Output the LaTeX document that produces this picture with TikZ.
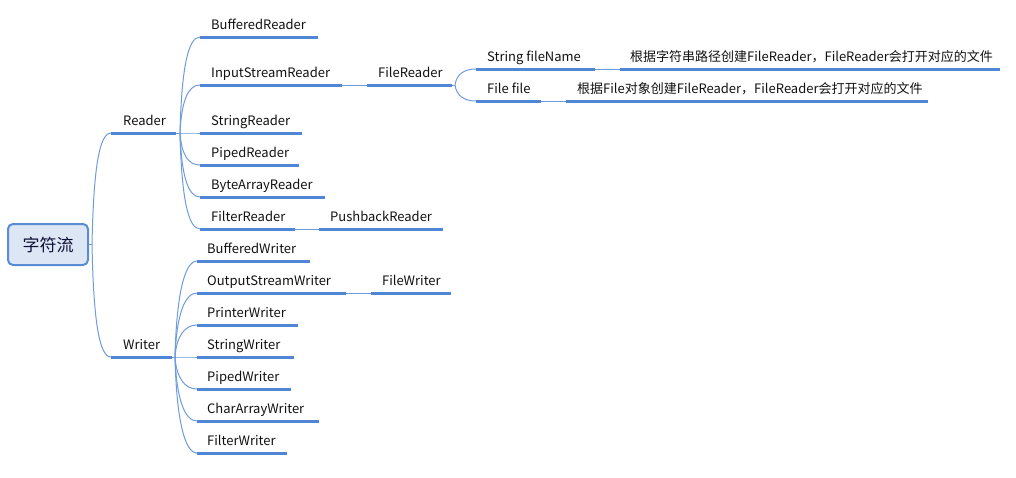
\documentclass[tikz,border=0pt]{standalone}
\usepackage{fontspec}
\setmainfont{Noto Sans CJK SC}
\usetikzlibrary{calc}
\definecolor{barblue}{HTML}{4F87D6}
\definecolor{linkblue}{HTML}{6E9BDA}
\definecolor{rootfill}{HTML}{DCE6F4}
\definecolor{rootline}{HTML}{5A8CD5}
\definecolor{txtcol}{HTML}{111111}
\tikzset{
  ubar/.style={rectangle, fill=barblue, draw=none, inner sep=0pt, minimum height=3pt, anchor=west},
  itemtext/.style={inner sep=0pt, anchor=base west, text=txtcol, font=\fontsize{13pt}{16pt}\selectfont},
  conn/.style={draw=linkblue, line width=1pt},
  rootbox/.style={rectangle, rounded corners=5pt, draw=rootline, line width=2pt, fill=rootfill,
    minimum width=80pt, minimum height=41pt, inner sep=0pt, text=txtcol!85!blue,
    font=\fontsize{17pt}{20pt}\selectfont}
}
% item: name, x, y (of bar), length, text, text offset
\newcommand\mmitem[6]{%
  \node[ubar, minimum width=#4pt] (#1) at (#2,#3) {};
  \node[itemtext] (#1-t) at ([shift={(#6,-8)}]#1.west) {#5};
}
% curved connector from fork coordinate to bar start
\newcommand\mmcurve[2]{%
  \draw[conn] (#1) let \p1=(#1), \p2=(#2.west) in
    .. controls ({\x1+1.5pt},{\y1+0.667*(\y2-\y1)}) and ({\x2-12pt},\y2) .. (\p2);
}
\begin{document}
\begin{tikzpicture}[x=1pt,y=-1pt]
\useasboundingbox (0,0) rectangle (1016,477);
% root
\node[rootbox] (root) at (48,244.5) {字符流};
\coordinate (rootf) at (92,244.5);
\draw[conn] (root.east) -- (rootf);
% level 1
\mmitem{reader}{111}{133}{65}{Reader}{12}
\mmitem{writer}{111}{357}{61}{Writer}{12}
\mmcurve{rootf}{reader}
\mmcurve{rootf}{writer}
% Reader children
\coordinate (rf) at (180,133);
\draw[conn] (reader.east) -- (rf);
\mmitem{br}{200}{37}{118}{BufferedReader}{11}
\mmitem{isr}{200}{85}{142}{InputStreamReader}{11}
\mmitem{sr}{200}{133}{102}{StringReader}{11}
\mmitem{pr}{200}{165}{99}{PipedReader}{11}
\mmitem{bar}{200}{197}{125}{ByteArrayReader}{11}
\mmitem{fr}{200}{229}{95}{FilterReader}{11}
\foreach \c in {br,isr,sr,pr,bar,fr}{\mmcurve{rf}{\c}}
\mmitem{pb}{319}{229}{124}{PushbackReader}{11}
\draw[conn] (fr.east) -- (pb.west);
\mmitem{filer}{367}{85}{85}{FileReader}{11}
\draw[conn] (isr.east) -- (filer.west);
\coordinate (ff0) at (455,85);
\draw[conn] (filer.east) -- (ff0);
\mmitem{sfn}{476}{69}{119}{String fileName}{11}
\mmitem{ff}{476}{101}{65}{File file}{11}
\mmcurve{ff0}{sfn}
\mmcurve{ff0}{ff}
\mmitem{d1}{620}{69}{380}{根据字符串路径创建FileReader，FileReader会打开对应的文件}{10}
\mmitem{d2}{566}{101}{362}{根据File对象创建FileReader，FileReader会打开对应的文件}{11}
\draw[conn] (sfn.east) -- (d1.west);
\draw[conn] (ff.east) -- (d2.west);
% Writer children
\coordinate (wf) at (175,357);
\draw[conn] (writer.east) -- (wf);
\mmitem{bw}{197}{261}{113}{BufferedWriter}{10}
\mmitem{osw}{197}{293}{149}{OutputStreamWriter}{10}
\mmitem{pw}{197}{325}{101}{PrinterWriter}{10}
\mmitem{sw}{197}{357}{97}{StringWriter}{10}
\mmitem{piw}{197}{389}{94}{PipedWriter}{10}
\mmitem{caw}{197}{421}{122}{CharArrayWriter}{10}
\mmitem{fiw}{197}{453}{90}{FilterWriter}{10}
\foreach \c in {bw,osw,pw,sw,piw,caw,fiw}{\mmcurve{wf}{\c}}
\mmitem{fw}{371}{293}{80}{FileWriter}{11}
\draw[conn] (osw.east) -- (fw.west);
\end{tikzpicture}
\end{document}
